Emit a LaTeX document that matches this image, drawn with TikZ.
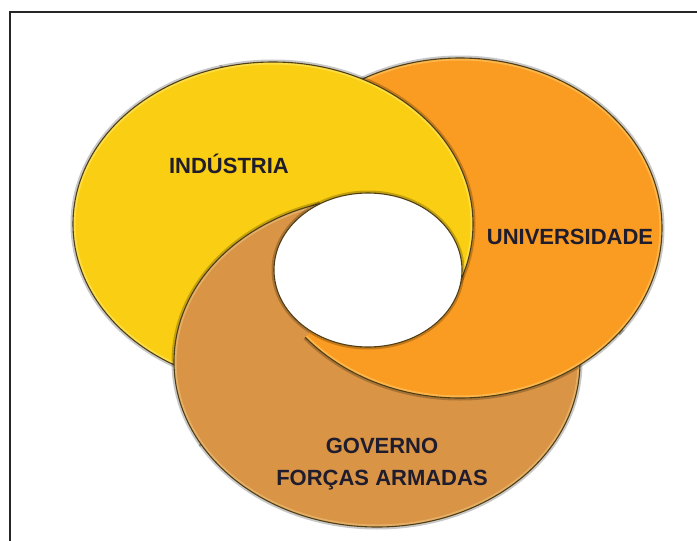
\documentclass[tikz,border=0pt]{standalone}
\usepackage{fontspec}
\setmainfont{Liberation Sans}
\begin{document}
\begin{tikzpicture}[x=1pt,y=-1pt,
  lbl/.style={text=labelink,font=\fontsize{22}{24}\selectfont\bfseries,inner sep=0pt,anchor=base},
  rim/.style={draw=rimdark,line width=1.1},
  shade/.style={draw=black,line width=5,opacity=0.22},
  glow/.style={line width=5,opacity=0.55}]
\definecolor{labelink}{RGB}{30,28,45}
\definecolor{rimdark}{RGB}{80,62,20}
\definecolor{industryfill}{RGB}{250,206,18}
\definecolor{industrylight}{RGB}{255,236,110}
\definecolor{universityfill}{RGB}{250,156,34}
\definecolor{universitylight}{RGB}{255,205,110}
\definecolor{governmentfill}{RGB}{217,148,70}
\definecolor{governmentlight}{RGB}{240,196,130}

\useasboundingbox (0,0) rectangle (697,541);

% the three discs and the common hole
\newcommand\discInd{(273,224) ellipse [x radius=200, y radius=162]}
\newcommand\discUni{(460,228) ellipse [x radius=202, y radius=170]}
\newcommand\discGov{(377,362) ellipse [x radius=203, y radius=165]}
\newcommand\discHole{(368,270) ellipse [x radius=94, y radius=77]}

% one disc: soft shadow, fill, inner highlight, outline
\newcommand\paintdisc[3]{%
  \draw[shade] #1;
  \fill[#2] #1;
  \begin{scope}
    \clip #1;
    \draw[glow,#3] #1;
  \end{scope}
  \draw[rim] #1;}

\newcommand\paintInd{\paintdisc{\discInd}{industryfill}{industrylight}}
\newcommand\paintUni{\paintdisc{\discUni}{universityfill}{universitylight}}
\newcommand\paintGov{\paintdisc{\discGov}{governmentfill}{governmentlight}}

% frame
\coordinate (frameTR) at (697,12);
\coordinate (frameTL) at (10,12);
\coordinate (frameBL) at (10,541);
\draw[line width=2,black!85] (frameTR) -- (frameTL) -- (frameBL);

\coordinate (hc) at (368,270);

% upper sector: industry on top
\begin{scope}
  \clip (hc) -- ([shift={(hc)}]234:2000) -- ([shift={(hc)}]304:2000) -- ([shift={(hc)}]374.3:2000) -- cycle;
  \begin{scope}[transparency group]
    \paintGov \paintUni \paintInd
  \end{scope}
\end{scope}
% lower right sector: university on top
\begin{scope}
  \clip (hc) -- ([shift={(hc)}]13.1:2000) -- ([shift={(hc)}]73:2000) -- ([shift={(hc)}]134.2:2000) -- cycle;
  \begin{scope}[transparency group]
    \paintInd \paintGov \paintUni
  \end{scope}
\end{scope}
% left sector: government on top
\begin{scope}
  \clip (hc) -- ([shift={(hc)}]133.6:2000) -- ([shift={(hc)}]184:2000) -- ([shift={(hc)}]234.5:2000) -- cycle;
  \begin{scope}[transparency group]
    \paintUni \paintInd \paintGov
  \end{scope}
\end{scope}

% the hole in the middle, with a soft shadow round it
\begin{scope}[even odd rule]
  \clip (0,0) rectangle (697,541) \discHole;
  \draw[shade] \discHole;
\end{scope}
\fill[white] \discHole;
\draw[rim] \discHole;

% labels
\node[lbl] (industria) at (229,173) {INDÚSTRIA};
\node[lbl] (universidade) at (570,244) {UNIVERSIDADE};
\node[lbl] (governo) at (382,453) {GOVERNO};
\node[lbl] (forcas) at (382,485) {FORÇAS ARMADAS};
\end{tikzpicture}
\end{document}
